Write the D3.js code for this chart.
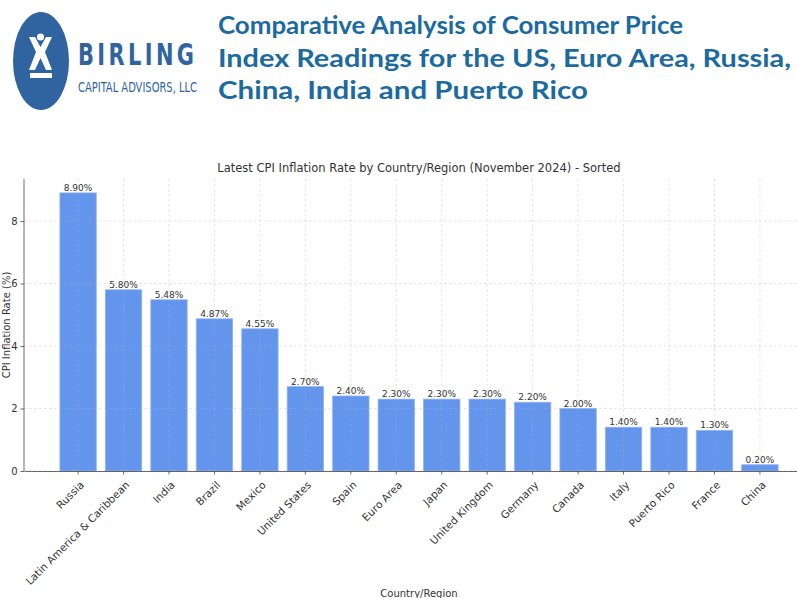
<!DOCTYPE html>
<html>
<head>
<meta charset="utf-8">
<script src="https://cdn.jsdelivr.net/npm/d3@7"></script>
<style>
  html, body { margin: 0; padding: 0; background: #fff; }
  svg { display: block; }
</style>
</head>
<body>
<svg id="chart" width="797" height="598"></svg>
<script>
// ---- data ----
const categories = ["Russia", "Latin America & Caribbean", "India", "Brazil", "Mexico", "United States",
  "Spain", "Euro Area", "Japan", "United Kingdom", "Germany", "Canada", "Italy", "Puerto Rico", "France", "China"];
const cpiValues = [8.90, 5.80, 5.48, 4.87, 4.55, 2.70, 2.40, 2.30, 2.30, 2.30, 2.20, 2.00, 1.40, 1.40, 1.30, 0.20];
const yTicks = [0, 2, 4, 6, 8];
const headerLines = ["Comparative Analysis of Consumer Price",
  "Index Readings for the US, Euro Area, Russia,",
  "China, India and Puerto Rico"];
const chartTitle = "Latest CPI Inflation Rate by Country/Region (November 2024) - Sorted";

const svg = d3.select("#chart");
const FONT = "'DejaVu Sans', sans-serif";

// ---- header: logo ----
const logoBlue = "#2f64a0";
const logo = svg.append("g");
logo.append("ellipse").attr("cx", 41).attr("cy", 61).attr("rx", 28).attr("ry", 49).attr("fill", logoBlue);
logo.append("circle").attr("cx", 40.5).attr("cy", 37).attr("r", 3.6).attr("fill", "#fff");
logo.append("path")
  .attr("d", "M29,37 L35,37 L40.5,47 L46,37 L52,37 L45,52 L52,70 L46,70 L40.5,58 L35,70 L29,70 L36,52 Z")
  .attr("fill", "#fff");
logo.append("rect").attr("x", 30).attr("y", 73).attr("width", 22).attr("height", 5).attr("fill", "#fff");
logo.append("text").attr("transform", "translate(78,65) scale(0.75,1)").text("BIRLING")
  .attr("font-family", "'Liberation Sans Narrow', 'DejaVu Sans Condensed', sans-serif")
  .attr("font-weight", 700)
  .attr("font-size", 31).attr("fill", logoBlue)
  .attr("textLength", 116 / 0.75).attr("lengthAdjust", "spacing");
logo.append("text").attr("x", 78).attr("y", 92).text("CAPITAL ADVISORS, LLC")
  .attr("font-family", "'Liberation Sans Narrow', 'DejaVu Sans Condensed', sans-serif")
  .attr("font-size", 13.5).attr("fill", logoBlue)
  .attr("textLength", 119).attr("lengthAdjust", "spacingAndGlyphs");

// ---- header title ----
const headerEnds = [683, 791, 588];
const headerBase = [34, 66.5, 98.5];
svg.append("g").selectAll("text").data(headerLines).join("text")
  .attr("x", 218)
  .attr("y", (d, i) => headerBase[i])
  .attr("font-family", "Lato, 'Open Sans', sans-serif")
  .attr("font-weight", 700)
  .attr("font-size", 24)
  .attr("fill", "#1b6aa0")
  .attr("textLength", (d, i) => headerEnds[i] - 218)
  .attr("lengthAdjust", "spacingAndGlyphs")
  .text(d => d);

// ---- chart ----
const pLeft = 24, pRight = 814, pTop = 179, pBottom = 471;
const x = d3.scaleBand().domain(categories).range([pLeft, pRight]).paddingInner(0.2).paddingOuter(0.79);
const yMax = 8.9 * 1.05;
const y = d3.scaleLinear().domain([0, yMax]).range([pBottom, pTop]);

// title
svg.append("text").attr("x", (pLeft + pRight) / 2).attr("y", 172)
  .attr("text-anchor", "middle").attr("font-family", FONT).attr("font-size", 11.5)
  .attr("fill", "#333").text(chartTitle);

// bars
svg.append("g").selectAll("rect").data(cpiValues).join("rect")
  .attr("x", (d, i) => x(categories[i]))
  .attr("y", d => y(d))
  .attr("width", x.bandwidth())
  .attr("height", d => y(0) - y(d))
  .attr("fill", "#6495ed")
  .attr("stroke", "#8fb2f2").attr("stroke-width", 0.8);

// grid (drawn over bars)
const grid = svg.append("g").attr("stroke", "#b0b0b0").attr("stroke-opacity", 0.5)
  .attr("stroke-width", 0.7).attr("stroke-dasharray", "2.5,2.5");
grid.selectAll("line.v").data(categories).join("line").attr("class", "v")
  .attr("x1", d => x(d) + x.bandwidth() / 2).attr("x2", d => x(d) + x.bandwidth() / 2)
  .attr("y1", pTop).attr("y2", pBottom);
grid.selectAll("line.h").data(yTicks).join("line").attr("class", "h")
  .attr("x1", pLeft).attr("x2", pRight)
  .attr("y1", d => y(d)).attr("y2", d => y(d));

// value labels
svg.append("g").selectAll("text").data(cpiValues).join("text")
  .attr("x", (d, i) => x(categories[i]) + x.bandwidth() / 2)
  .attr("y", d => y(d) - 2)
  .attr("text-anchor", "middle")
  .attr("font-family", FONT).attr("font-size", 9).attr("fill", "#333")
  .text(d => d.toFixed(2) + "%");

// y axis
const yAxis = svg.append("g").attr("transform", `translate(${pLeft},0)`)
  .call(d3.axisLeft(y).tickValues(yTicks).tickSize(3.5).tickPadding(3).tickFormat(d3.format("d")));
yAxis.select(".domain").attr("stroke", "#444").attr("stroke-width", 0.8).attr("d", `M0,${pTop}V${pBottom}`);
yAxis.selectAll(".tick line").attr("stroke", "#444").attr("stroke-width", 0.8);
yAxis.selectAll(".tick text").attr("font-family", FONT).attr("font-size", 10).attr("fill", "#333");

// x axis
const xAxis = svg.append("g").attr("transform", `translate(0,${pBottom})`)
  .call(d3.axisBottom(x).tickSize(3.5).tickSizeOuter(0).tickPadding(3));
xAxis.select(".domain").attr("stroke", "#444").attr("stroke-width", 0.8);
xAxis.selectAll(".tick line").attr("stroke", "#444").attr("stroke-width", 0.8);
xAxis.selectAll(".tick text")
  .attr("font-family", FONT).attr("font-size", 10.5).attr("fill", "#333")
  .attr("text-anchor", "end")
  .attr("dy", "0.35em")
  .attr("transform", "translate(4,12) rotate(-45)")
  .attr("y", 0).attr("x", 0);

// axis labels
svg.append("text").attr("transform", `translate(10,${(pTop + pBottom) / 2}) rotate(-90)`)
  .attr("text-anchor", "middle").attr("font-family", FONT).attr("font-size", 10).attr("fill", "#333")
  .text("CPI Inflation Rate (%)");
svg.append("text").attr("x", (pLeft + pRight) / 2).attr("y", 597)
  .attr("text-anchor", "middle").attr("font-family", FONT).attr("font-size", 10).attr("fill", "#333")
  .text("Country/Region");
</script>
</body>
</html>
